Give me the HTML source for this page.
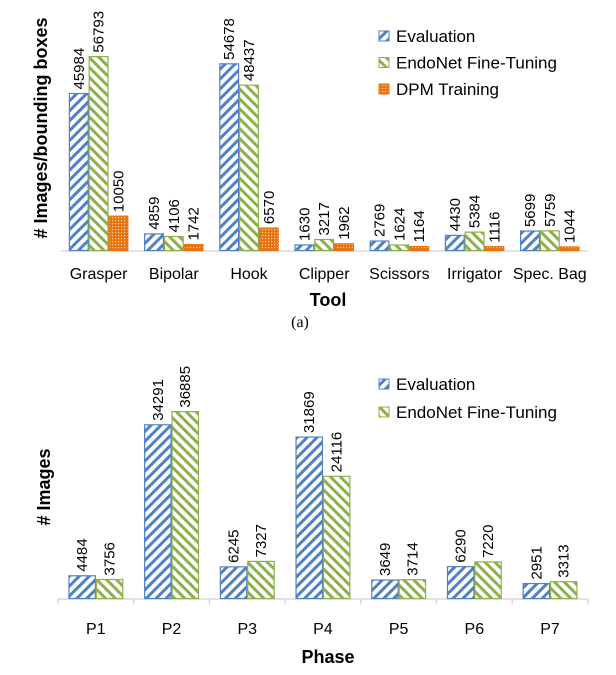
<!DOCTYPE html>
<html><head><meta charset="utf-8"><style>
html,body{margin:0;padding:0;background:#fff;}
svg{display:block;font-family:"Liberation Sans",sans-serif;}
</style></head><body>
<svg id="chart" width="616" height="675" viewBox="0 0 616 675">
<defs>
<pattern id="pBlue" patternUnits="userSpaceOnUse" width="7" height="7" patternTransform="rotate(45)">
<rect width="7" height="7" fill="#fff"/><rect x="0" y="0" width="3" height="7" fill="#4f81c4"/></pattern>
<pattern id="pGreen" patternUnits="userSpaceOnUse" width="7" height="7" patternTransform="rotate(-45)">
<rect width="7" height="7" fill="#fff"/><rect x="0" y="0" width="3" height="7" fill="#8db04a"/></pattern>
<pattern id="pOrange" patternUnits="userSpaceOnUse" width="3" height="3">
<rect width="3" height="3" fill="#e8720f"/><rect x="1" y="1" width="1.2" height="1.2" fill="#fbd3ae"/></pattern>
</defs>
<g id="top"></g>
<g id="bottom"></g>
<text x="300" y="327" text-anchor="middle" font-family="Liberation Serif, serif" font-size="16">(a)</text>
</svg>
<script>
const toolCats = ["Grasper","Bipolar","Hook","Clipper","Scissors","Irrigator","Spec. Bag"];
const toolEval = [45984,4859,54678,1630,2769,4430,5699];
const toolEndo = [56793,4106,48437,3217,1624,5384,5759];
const toolDpm = [10050,1742,6570,1962,1164,1116,1044];
const phaseCats = ["P1","P2","P3","P4","P5","P6","P7"];
const phaseEval = [4484,34291,6245,31869,3649,6290,2951];
const phaseEndo = [3756,36885,7327,24116,3714,7220,3313];

const NS="http://www.w3.org/2000/svg";
function mk(parent,tag,attrs,txt){const e=document.createElementNS(NS,tag);for(const k in attrs)e.setAttribute(k,attrs[k]);if(txt!==undefined)e.textContent=txt;parent.appendChild(e);return e;}

function drawChart(g,cfg){
  const x0=cfg.x0, step=cfg.step, base=cfg.base, k=cfg.k, bw=cfg.bw;
  const xScale=i=>x0+step*i;
  const yScale=v=>base-v*k;
  const ax=mk(g,'line',{x1:x0,x2:x0+step*cfg.cats.length,y1:base+0.5,y2:base+0.5,stroke:'#d9d9d9','stroke-width':1.5});
  
  
  if(cfg.ticks){
    for(let i=0;i<=cfg.cats.length;i++){
      const t=mk(g,'line',{x1:xScale(i),x2:xScale(i),y1:base,y2:base+6,stroke:'#d9d9d9','stroke-width':1.5});
      
      
    }
  }
  const n=cfg.series.length;
  cfg.cats.forEach((c,i)=>{
    const cx=xScale(i)+step/2;
    const gx=cx-n*bw/2;
    cfg.series.forEach((s,j)=>{
      const v=s.vals[i];
      const bx=gx+j*bw, by=yScale(v);
      const r=mk(g,'rect',{x:bx+0.5,y:by,width:bw-1,height:base-by,fill:s.fill,stroke:s.stroke,'stroke-width':1.2});
      
      
      const tx=bx+bw/2+5, ty=by-4;
      const t=mk(g,'text',{x:tx,y:ty,'font-size':15,fill:'#000',transform:`rotate(-90 ${tx} ${ty})`},String(v));
      
      
    });
    const cl=mk(g,'text',{x:cx,y:cfg.catY,'text-anchor':'middle','font-size':16,fill:'#000'},c);
    
    
  });
  const xt=mk(g,'text',{x:cfg.xTitleX,y:cfg.xTitleY,'text-anchor':'middle','font-size':18,'font-weight':'bold'},cfg.xTitle);
  
  
  const yt=mk(g,'text',{x:cfg.yTitleX,y:cfg.yTitleY,'text-anchor':'middle','font-size':18,'font-weight':'bold',transform:`rotate(-90 ${cfg.yTitleX} ${cfg.yTitleY})`},cfg.yTitle);
  
  
  cfg.series.forEach((s,j)=>{
    const ly=cfg.legY+j*cfg.legStep;
    const sw=mk(g,'rect',{x:379,y:ly-5,width:10,height:10,fill:s.fill,stroke:s.stroke,'stroke-width':1});
    
    
    const lt=mk(g,'text',{x:396,y:ly+6,'font-size':17},s.name);
    
    
  });
}
const blue={fill:'url(#pBlue)',stroke:'#4f81c4'}, green={fill:'url(#pGreen)',stroke:'#8db04a'}, orange={fill:'url(#pOrange)',stroke:'#e8720f'};
drawChart(document.getElementById('top'),{prefix:'tool',cats:toolCats,x0:61,step:75.2,base:250.5,k:0.003414,bw:19.8,catY:279,ticks:false,
  xTitle:'Tool',xTitleX:328,xTitleY:306,yTitle:'# Images/bounding boxes',yTitleX:47,yTitleY:128,legY:36,legStep:26.5,
  series:[Object.assign({key:'evaluation',name:'Evaluation',vals:toolEval},blue),Object.assign({key:'endonet',name:'EndoNet Fine-Tuning',vals:toolEndo},green),Object.assign({key:'dpm',name:'DPM Training',vals:toolDpm},orange)]});
drawChart(document.getElementById('bottom'),{prefix:'phase',cats:phaseCats,x0:58,step:75.7,base:598.5,k:0.005066,bw:27.4,catY:634,ticks:true,
  xTitle:'Phase',xTitleX:328,xTitleY:663,yTitle:'# Images',yTitleX:50,yTitleY:487,legY:384,legStep:28,
  series:[Object.assign({key:'evaluation',name:'Evaluation',vals:phaseEval},blue),Object.assign({key:'endonet',name:'EndoNet Fine-Tuning',vals:phaseEndo},green)]});
</script>
</body></html>
